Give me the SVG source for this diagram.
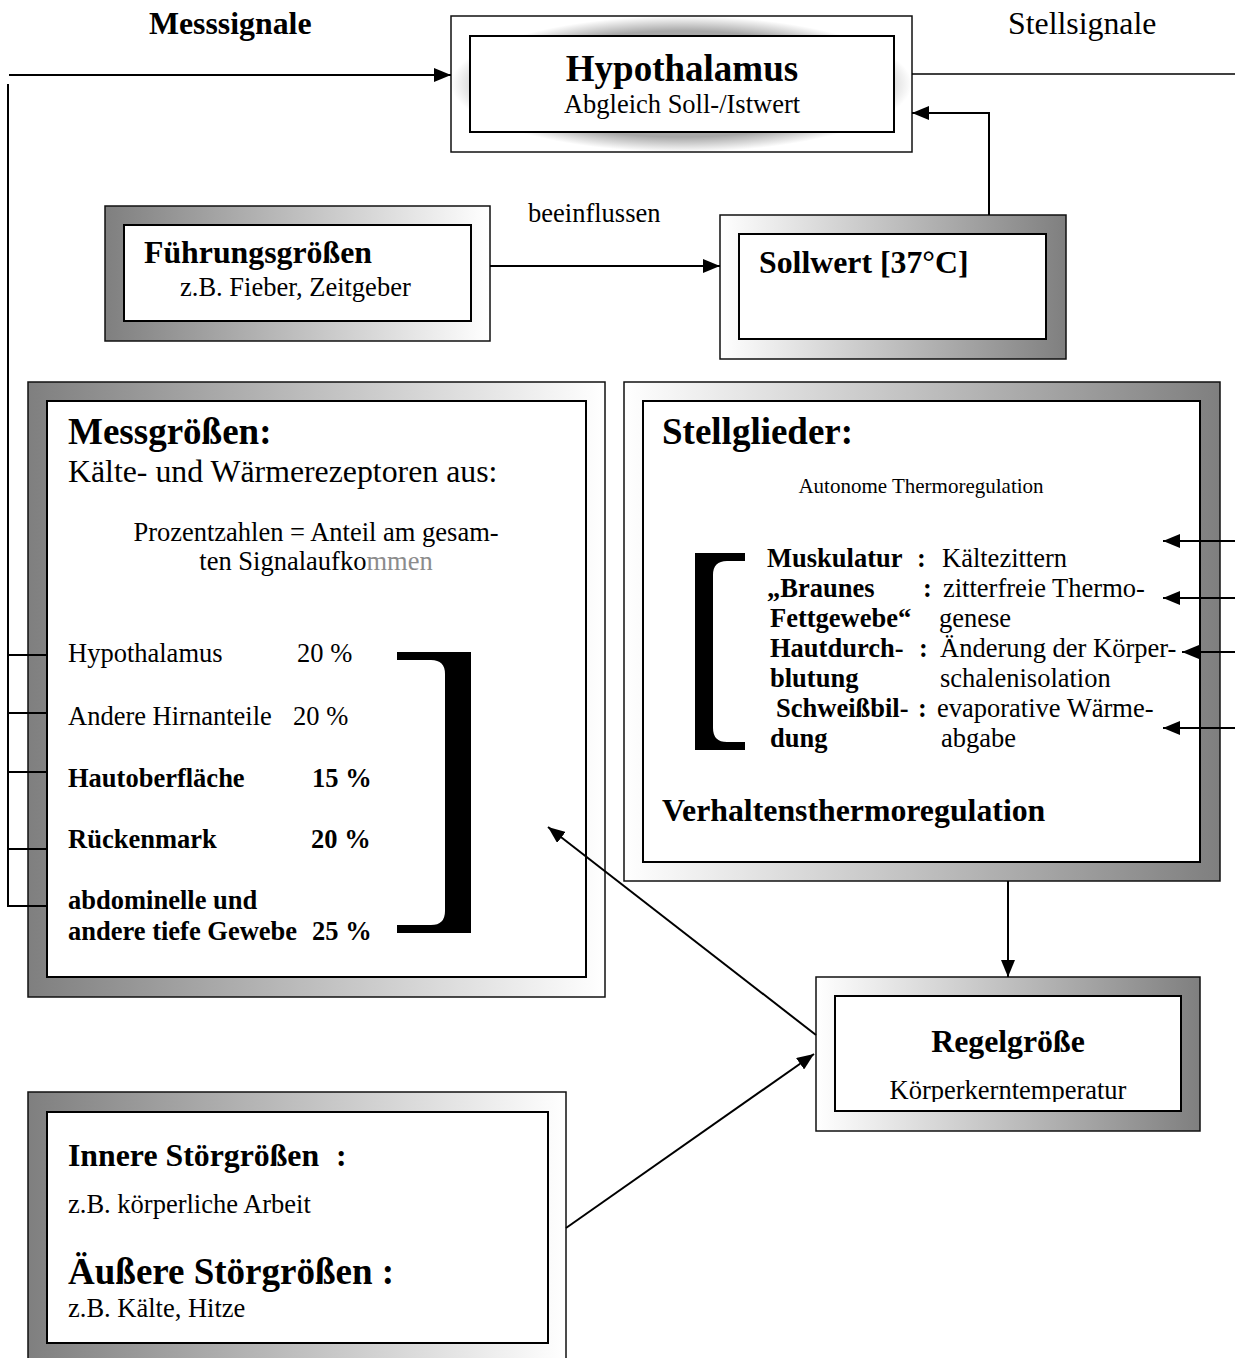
<svg xmlns="http://www.w3.org/2000/svg" width="1235" height="1358" viewBox="0 0 1235 1358">
<defs>
<linearGradient id="gDL" x1="0" y1="0" x2="1" y2="0"><stop offset="0" stop-color="#7f7f7f"/><stop offset="1" stop-color="#ffffff"/></linearGradient>
<linearGradient id="gDR" x1="0" y1="0" x2="1" y2="0"><stop offset="0" stop-color="#ffffff"/><stop offset="1" stop-color="#7f7f7f"/></linearGradient>
<radialGradient id="gHy" cx="0.5" cy="0.5" r="0.5"><stop offset="0.78" stop-color="#a8a8a8"/><stop offset="1" stop-color="#ffffff"/></radialGradient>
<marker id="ah" markerUnits="userSpaceOnUse" markerWidth="17" markerHeight="14" refX="17" refY="7" orient="auto"><path d="M0,0 L17,7 L0,14 Z" fill="#000"/></marker>
<clipPath id="cRg"><rect x="835" y="996" width="346" height="106"/></clipPath>
<style>
.o{stroke:#111;stroke-width:1.5}
.i{fill:#fff;stroke:#000;stroke-width:2}
text{font-family:"Liberation Serif","Times New Roman",serif;fill:#000}
.r{font-size:26.5px}
.rb{font-size:26.5px;font-weight:bold}
.m{font-size:31.8px}
.mb{font-size:31.8px;font-weight:bold}
.lb{font-size:37px;font-weight:bold}
.s{font-size:21px}
.c{text-anchor:middle}
.ln{fill:none;stroke:#000;stroke-width:2}
</style>
</defs>
<rect width="1235" height="1358" fill="#fff"/>

<text class="mb" x="149" y="34">Messsignale</text>
<text class="m" x="1008" y="34">Stellsignale</text>
<text class="r" x="528" y="222">beeinflussen</text>

<g id="hypothalamus">
<rect class="o" x="451" y="16" width="461" height="136" fill="url(#gHy)"/>
<rect class="i" x="470" y="36" width="424" height="96"/>
<text class="lb c" x="682" y="81">Hypothalamus</text>
<text class="r c" x="682" y="113">Abgleich Soll-/Istwert</text>
</g>

<g id="fuehrungsgroessen">
<rect class="o" x="105" y="206" width="385" height="135" fill="url(#gDL)"/>
<rect class="i" x="124" y="225" width="347" height="96"/>
<text class="mb" x="144" y="263">Führungsgrößen</text>
<text class="r" x="180" y="296">z.B. Fieber, Zeitgeber</text>
</g>

<g id="sollwert">
<rect class="o" x="720" y="215" width="346" height="144" fill="url(#gDR)"/>
<rect class="i" x="739" y="234" width="307" height="105"/>
<text class="mb" x="759" y="273">Sollwert [37°C]</text>
</g>

<g id="messgroessen">
<rect class="o" x="28" y="382" width="577" height="615" fill="url(#gDL)"/>
<rect class="i" x="47" y="401" width="539" height="576"/>
<text class="lb" x="68" y="444">Messgrößen:</text>
<text class="m" x="68" y="482">Kälte- und Wärmerezeptoren aus:</text>
<text class="r c" x="316" y="541">Prozentzahlen = Anteil am gesam-</text>
<text class="r c" x="316" y="570">ten Signalaufko<tspan fill="#8c8c8c">mmen</tspan></text>
<text class="r" x="68" y="662">Hypothalamus</text><text class="r" x="297" y="662">20 %</text>
<text class="r" x="68" y="725">Andere Hirnanteile</text><text class="r" x="293" y="725">20 %</text>
<text class="rb" x="68" y="787">Hautoberfläche</text><text class="rb" x="312" y="787">15 %</text>
<text class="rb" x="68" y="848">Rückenmark</text><text class="rb" x="311" y="848">20 %</text>
<text class="rb" x="68" y="909">abdominelle und</text>
<text class="rb" x="68" y="940">andere tiefe Gewebe</text><text class="rb" x="312" y="940">25 %</text>
<path d="M397,652 H471 V933 H397 V925 H431 Q445,925 445,911 V674 Q445,660 431,660 H397 Z" fill="#000"/>
</g>

<g id="stellglieder">
<rect class="o" x="624" y="382" width="596" height="499" fill="url(#gDR)"/>
<rect class="i" x="643" y="401" width="557" height="461"/>
<text class="lb" x="662" y="444">Stellglieder:</text>
<text class="s c" x="921" y="493">Autonome Thermoregulation</text>
<path d="M745,553 H695 V750 H745 V742 H727 Q713,742 713,728 V575 Q713,561 727,561 H745 Z" fill="#000"/>
<text class="rb" x="767" y="567">Muskulatur</text><text class="rb" x="917" y="567">:</text><text class="r" x="942" y="567">Kältezittern</text>
<text class="rb" x="767" y="597">„Braunes</text><text class="rb" x="923" y="597">:</text><text class="r" x="943" y="597">zitterfreie Thermo-</text>
<text class="rb" x="770" y="627">Fettgewebe“</text><text class="r" x="939" y="627">genese</text>
<text class="rb" x="770" y="657">Hautdurch-</text><text class="rb" x="919" y="657">:</text><text class="r" x="940" y="657">Änderung der Körper-</text>
<text class="rb" x="770" y="687">blutung</text><text class="r" x="940" y="687">schalenisolation</text>
<text class="rb" x="776" y="717">Schweißbil-</text><text class="rb" x="918" y="717">:</text><text class="r" x="937" y="717">evaporative Wärme-</text>
<text class="rb" x="770" y="747">dung</text><text class="r" x="941" y="747">abgabe</text>
<text class="mb" x="662" y="821">Verhaltensthermoregulation</text>
</g>

<g id="regelgroesse">
<rect class="o" x="816" y="977" width="384" height="154" fill="url(#gDR)"/>
<rect class="i" x="835" y="996" width="346" height="115"/>
<text class="mb c" x="1008" y="1052">Regelgröße</text>
<text class="r c" x="1008" y="1099" clip-path="url(#cRg)">Körperkerntemperatur</text>
</g>

<g id="stoergroessen">
<rect class="o" x="28" y="1092" width="538" height="290" fill="url(#gDL)"/>
<rect class="i" x="47" y="1112" width="501" height="231"/>
<text class="mb" x="68" y="1166">Innere Störgrößen</text><text class="mb" x="336" y="1166">:</text>
<text class="r" x="68" y="1213">z.B. körperliche Arbeit</text>
<text class="lb" x="68" y="1284">Äußere Störgrößen :</text>
<text class="r" x="68" y="1317">z.B. Kälte, Hitze</text>
</g>

<g id="connectors">
<path class="ln" d="M9,75 H451" marker-end="url(#ah)"/>
<path class="ln" d="M8,84 V906 H47 M8,655 H47 M8,713 H47 M8,772 H47 M8,849 H47"/>
<path d="M912,74 H1235" stroke="#000" stroke-width="1.5" fill="none"/>
<path class="ln" d="M989,215 V113 H912" marker-end="url(#ah)"/>
<path class="ln" d="M490,266 H720" marker-end="url(#ah)"/>
<path class="ln" d="M1008,881 V977" marker-end="url(#ah)"/>
<path class="ln" d="M816,1035 L548,827" marker-end="url(#ah)"/>
<path class="ln" d="M566,1228 L814,1054" marker-end="url(#ah)"/>
<path class="ln" d="M1235,541 H1163" marker-end="url(#ah)"/>
<path class="ln" d="M1235,598 H1163" marker-end="url(#ah)"/>
<path class="ln" d="M1235,652 H1182" marker-end="url(#ah)"/>
<path class="ln" d="M1235,728 H1163" marker-end="url(#ah)"/>
</g>
</svg>
